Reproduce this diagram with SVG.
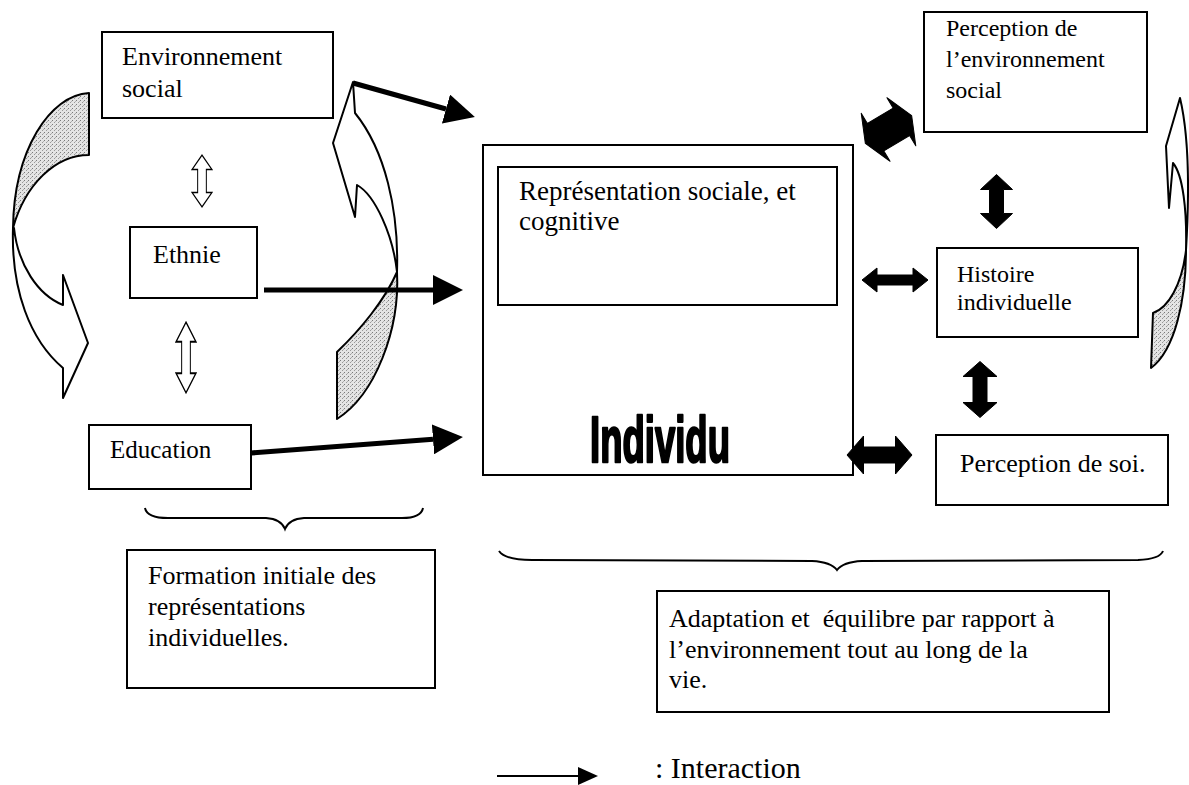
<svg xmlns="http://www.w3.org/2000/svg" width="1189" height="785" viewBox="0 0 1189 785">
<style>
  .box { fill: #ffffff; stroke: #000000; stroke-width: 2; }
  .t { font-family: "Liberation Serif", "Times New Roman", serif; fill: #000000; }
  .t26 { font-size: 26px; }
  .t24 { font-size: 24px; }
  .conn { stroke: #000000; stroke-width: 5; fill: none; }
  .blk { fill: #000000; stroke: #000000; stroke-width: 1; stroke-linejoin: round; }
  .hol { fill: #ffffff; stroke: #000000; stroke-width: 1.6; stroke-linejoin: miter; }
  .band { fill: #ffffff; stroke: #000000; stroke-width: 2; stroke-linejoin: round; }
  .shade { fill: url(#stip); stroke: #000000; stroke-width: 2; stroke-linejoin: round; }
  .brace { fill: none; stroke: #000000; stroke-width: 2; }
</style>
<defs>
  <pattern id="stip" width="4" height="4" patternUnits="userSpaceOnUse">
    <rect width="4" height="4" fill="#e4e4e4"/>
    <rect x="0" y="0" width="1" height="1" fill="#7a7a7a"/>
    <rect x="2" y="2" width="1" height="1" fill="#999999"/>
    <rect x="3" y="1" width="1" height="1" fill="#b0b0b0"/>
  </pattern>
  <marker id="head" markerUnits="userSpaceOnUse" viewBox="0 0 30 30" markerWidth="30" markerHeight="30" refX="0" refY="15" orient="auto">
    <path d="M0,0 L30,15 L0,30 Z" fill="#000000"/>
  </marker>
  <marker id="headSmall" markerUnits="userSpaceOnUse" viewBox="0 0 20 18" markerWidth="20" markerHeight="18" refX="0" refY="9" orient="auto">
    <path d="M0,0 L20,9 L0,18 Z" fill="#000000"/>
  </marker>
  <path id="vdblA" d="M0,-27 L16,-12 L7,-12 L7,12 L16,12 L0,27 L-16,12 L-7,12 L-7,-12 L-16,-12 Z"/>
  <path id="vdblB" d="M0,-28 L17,-13 L7,-13 L7,13 L17,13 L0,28 L-17,13 L-7,13 L-7,-13 L-17,-13 Z"/>
  <path id="hdblS" d="M-33,0 L-18,-12 L-18,-5 L18,-5 L18,-12 L33,0 L18,12 L18,5 L-18,5 L-18,12 Z"/>
  <path id="hdblL" d="M-32.5,0 L-16,-19 L-16,-8 L16,-8 L16,-19 L32.5,0 L16,19 L16,8 L-16,8 L-16,19 Z"/>
  <path id="diag" d="M-27,0 L-15,-28 L-15,-16 L15,-16 L15,-28 L27,0 L15,28 L15,16 L-15,16 L-15,28 Z"/>
</defs>

<rect width="1189" height="785" fill="#ffffff"/>

<!-- decorative cycle arrows -->
<g id="cycles">
  <g id="cycle-left">
    <path class="shade" d="M89,93 C50,95 14,150 13,228 C25,185 55,155 89,155 Z"/>
    <path class="band" d="M13,228 C11,290 30,340 63,368 L63,398 L88,343 L63,275 L63,305 C38,295 18,265 14,228 Z"/>
  </g>
  <g id="cycle-mid">
    <path class="shade" d="M337,352 C360,330 385,300 397,272 C400,330 375,395 337,419 Z"/>
    <path class="band" d="M397,272 C399,210 385,150 355,113 L353,82 L333,143 L355,217 L357,185 C375,195 393,235 397,272 Z"/>
  </g>
  <g id="cycle-right">
    <path class="shade" d="M1153,313 C1168,308 1182,285 1186,250 C1186,300 1175,350 1151,368 Z"/>
    <path class="band" d="M1186,250 C1189,200 1190,140 1180,98 L1166,146 L1169,208 L1173,163 C1183,175 1187,210 1186,250 Z"/>
  </g>
</g>

<!-- nodes -->
<g id="node-env">
  <rect class="box" x="102" y="32" width="231" height="86"/>
  <text class="t t26" x="122" y="65">Environnement</text>
  <text class="t t26" x="122" y="97">social</text>
</g>
<g id="node-ethnie">
  <rect class="box" x="130" y="227" width="127" height="71"/>
  <text class="t t26" x="153" y="263">Ethnie</text>
</g>
<g id="node-education">
  <rect class="box" x="89" y="425" width="162" height="64"/>
  <text class="t" font-size="25" x="110" y="458">Education</text>
</g>
<g id="node-individu">
  <rect class="box" x="483" y="145" width="370" height="330"/>
  <text x="590" y="462" textLength="140" lengthAdjust="spacingAndGlyphs" font-family="'Liberation Sans', Arial, sans-serif" font-weight="bold" font-size="65" fill="#000000" stroke="#000000" stroke-width="2.6" stroke-linejoin="round">Individu</text>
</g>
<g id="node-representation">
  <rect class="box" x="498" y="167" width="339" height="138"/>
  <text class="t" font-size="27" x="519" y="200">Représentation sociale, et</text>
  <text class="t" font-size="27" x="519" y="230">cognitive</text>
</g>
<g id="node-perception-env">
  <rect class="box" x="924" y="12" width="223" height="120"/>
  <text class="t t24" x="946" y="36">Perception de</text>
  <text class="t t24" x="946" y="67">l’environnement</text>
  <text class="t t24" x="946" y="98">social</text>
</g>
<g id="node-histoire">
  <rect class="box" x="937" y="248" width="201" height="89"/>
  <text class="t t24" x="957" y="282">Histoire</text>
  <text class="t t24" x="957" y="310">individuelle</text>
</g>
<g id="node-perception-soi">
  <rect class="box" x="936" y="435" width="232" height="70"/>
  <text class="t t26" x="960" y="472">Perception de soi.</text>
</g>
<g id="node-formation">
  <rect class="box" x="127" y="550" width="308" height="138"/>
  <text class="t t26" x="148" y="584">Formation initiale des</text>
  <text class="t t26" x="148" y="615">représentations</text>
  <text class="t t26" x="148" y="646">individuelles.</text>
</g>
<g id="node-adaptation">
  <rect class="box" x="657" y="591" width="452" height="121"/>
  <text class="t t26" x="669" y="627" xml:space="preserve">Adaptation et  équilibre par rapport à</text>
  <text class="t t26" x="669" y="658">l’environnement tout au long de la</text>
  <text class="t t26" x="669" y="688">vie.</text>
</g>

<!-- connectors -->
<g id="connectors">
  <line class="conn" x1="353" y1="83" x2="446" y2="109" marker-end="url(#head)"/>
  <line class="conn" x1="264" y1="290" x2="433" y2="290" marker-end="url(#head)"/>
  <line class="conn" x1="251" y1="453" x2="433" y2="439.3" marker-end="url(#head)"/>
  <use href="#vdblA" class="hol" transform="translate(202,181) scale(0.62,0.96)"/>
  <use href="#vdblA" class="hol" transform="translate(186,357.5) scale(0.62,1.31)"/>
  <use href="#diag" class="blk" transform="translate(888.5,129.5) rotate(-31)"/>
  <use href="#vdblA" class="blk" transform="translate(996.5,201.5)"/>
  <use href="#vdblB" class="blk" transform="translate(980,389.5)"/>
  <use href="#hdblS" class="blk" transform="translate(895,280)"/>
  <use href="#hdblL" class="blk" transform="translate(879.5,455)"/>
  <path class="brace" d="M145,508 Q147,518 168,518 L266,518 Q281,519 285,529 Q289,519 304,518 L402,518 Q421,518 423,508"/>
  <path class="brace" d="M499,551 Q505,560 532,560 L812,561 Q831,562 837,570 Q843,562 862,561 L1138,560 Q1160,559 1163,551"/>
</g>

<!-- legend -->
<g id="legend">
  <line x1="497" y1="776" x2="578" y2="776" stroke="#000000" stroke-width="2" marker-end="url(#headSmall)"/>
  <text class="t" font-size="30" x="655" y="778">: Interaction</text>
</g>
</svg>
